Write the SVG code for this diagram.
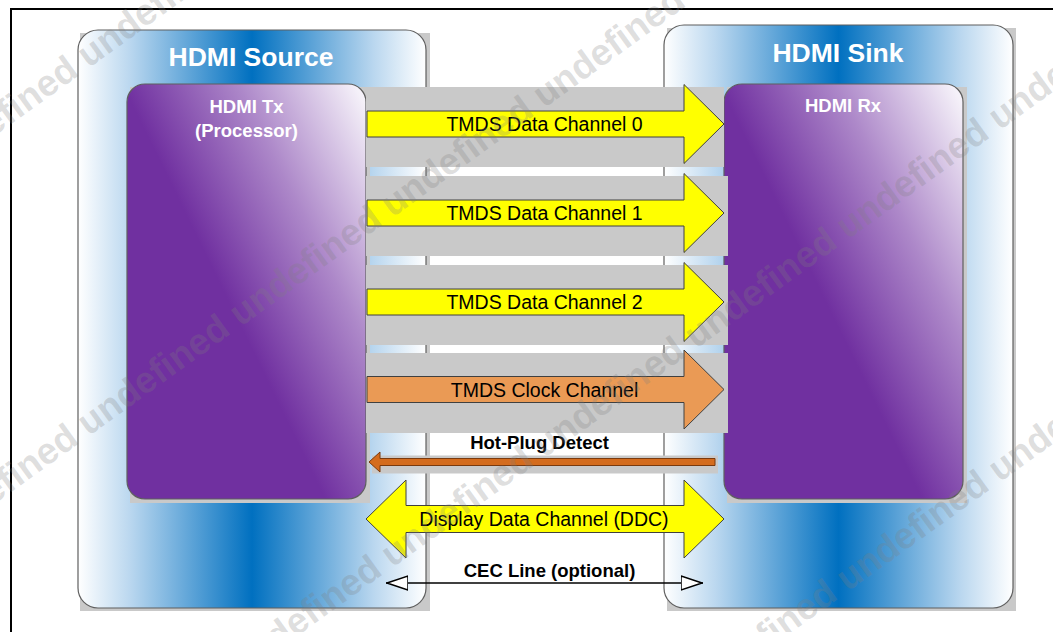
<svg xmlns="http://www.w3.org/2000/svg" width="1053" height="632" viewBox="0 0 1053 632">
<defs>
<linearGradient id="blue" x1="0" y1="0" x2="1" y2="0">
<stop offset="0" stop-color="#ffffff"/>
<stop offset="0.15" stop-color="#bad7ef"/>
<stop offset="0.5" stop-color="#0070c0"/>
<stop offset="0.85" stop-color="#bad7ef"/>
<stop offset="1" stop-color="#ffffff"/>
</linearGradient>
<linearGradient id="purpTx" gradientUnits="userSpaceOnUse" x1="130" y1="100" x2="318" y2="8">
<stop offset="0" stop-color="#7030a0"/>
<stop offset="0.5" stop-color="#ad88c9"/>
<stop offset="1" stop-color="#f5f1f9"/>
</linearGradient>
<linearGradient id="purpRx" gradientUnits="userSpaceOnUse" x1="727" y1="100" x2="915" y2="8">
<stop offset="0" stop-color="#7030a0"/>
<stop offset="0.5" stop-color="#ad88c9"/>
<stop offset="1" stop-color="#f5f1f9"/>
</linearGradient>
<marker id="open" viewBox="0 0 22 16" refX="22" refY="8" markerWidth="22" markerHeight="16" markerUnits="userSpaceOnUse" orient="auto-start-reverse">
<path d="M0,1 L21,8 L0,15 Z" fill="#fff" stroke="#000" stroke-width="1.5"/>
</marker>
<style>
.shadow{fill:#c9c9c9}
.box{stroke:#5f5f5f;stroke-width:1.2}
.title{font-family:"Liberation Sans",Arial,sans-serif;font-weight:bold;fill:#ffffff;text-anchor:middle}
.lbl{font-family:"Liberation Sans",Arial,sans-serif;font-size:19.5px;fill:#000;text-anchor:middle}
.blbl{font-family:"Liberation Sans",Arial,sans-serif;font-size:18.5px;font-weight:bold;fill:#000;text-anchor:middle}
.arrow{stroke:#404040;stroke-width:1}
.yel{fill:#ffff00}
.wm{font-family:"Liberation Sans",Arial,sans-serif;font-weight:bold;font-size:37px;fill:#7f7f7f;fill-opacity:0.26}
</style>
</defs>
<rect width="1053" height="632" fill="#ffffff"/>
<rect id="frame" x="11" y="9" width="1100" height="700" fill="none" stroke="#000" stroke-width="2"/>

<g id="source">
<rect class="shadow" x="80" y="33" width="350" height="578"/>
<rect class="box" x="78" y="30" width="348" height="578" rx="20" fill="url(#blue)"/>
<text class="title" x="251" y="66" font-size="26.5">HDMI Source</text>
</g>

<g id="sink">
<rect class="shadow" x="667" y="28" width="349" height="583"/>
<rect class="box" x="664" y="25" width="349" height="583" rx="20" fill="url(#blue)"/>
<text class="title" x="838" y="62" font-size="26.5">HDMI Sink</text>
</g>

<g id="tx">
<rect class="shadow" x="130" y="87" width="240" height="416"/>
<rect class="box" x="127" y="84" width="239" height="415" rx="18" fill="url(#purpTx)"/>
<text class="title" x="246.5" y="113" font-size="18.5">HDMI Tx</text>
<text class="title" x="246.5" y="137" font-size="18.5">(Processor)</text>
</g>

<g id="rx">
<rect class="shadow" x="727" y="87" width="240" height="416"/>
<rect class="box" x="724" y="84" width="239" height="415" rx="18" fill="url(#purpRx)"/>
<text class="title" x="843" y="112" font-size="18.5">HDMI Rx</text>
</g>

<g id="connectors">
<g id="ch0">
<rect class="shadow" x="366" y="87" width="358" height="80"/>
<polygon class="arrow yel" points="367,111 684,111 684,84.5 724,124 684,163.5 684,137 367,137"/>
<text class="lbl" x="544.5" y="131">TMDS Data Channel 0</text>
</g>
<g id="ch1">
<rect class="shadow" x="366" y="176" width="362" height="80"/>
<polygon class="arrow yel" points="367,200 684,200 684,173.5 724,213 684,252.5 684,226 367,226"/>
<text class="lbl" x="544.5" y="220">TMDS Data Channel 1</text>
</g>
<g id="ch2">
<rect class="shadow" x="366" y="265" width="362" height="80"/>
<polygon class="arrow yel" points="367,289 684,289 684,262.5 724,302 684,341.5 684,315 367,315"/>
<text class="lbl" x="544.5" y="308.5">TMDS Data Channel 2</text>
</g>
<g id="clk">
<rect class="shadow" x="366" y="353" width="362" height="80"/>
<polygon class="arrow" fill="#ea9a55" points="367,376.5 684,376.5 684,350 724,389.5 684,429 684,402.5 367,402.5"/>
<text class="lbl" x="544.5" y="396.5">TMDS Clock Channel</text>
</g>
<g id="hpd">
<text class="blbl" x="539.5" y="449">Hot-Plug Detect</text>
<rect class="shadow" x="372" y="455.5" width="346" height="18"/>
<polygon points="715,458.5 380,458.5 380,452 369,462 380,472 380,465.5 715,465.5" fill="#d46c1e" stroke="#7a3a0e" stroke-width="1"/>
</g>
<g id="ddc">
<polygon class="arrow yel" points="366,519 406,480 406,505.5 684,505.5 684,480 724,519 684,558 684,532.5 406,532.5 406,558"/>
<text class="lbl" x="544" y="526">Display Data Channel (DDC)</text>
</g>
<g id="cec">
<text class="blbl" x="549.5" y="577">CEC Line (optional)</text>
<line x1="386" y1="583" x2="703" y2="583" stroke="#000" stroke-width="1.5" marker-start="url(#open)" marker-end="url(#open)"/>
</g>
</g>

<g id="watermark" class="wm">
<text x="-215" y="287" transform="rotate(-35.75 -215 287)">undefined undefined undefined undefined undefined undefined undefined undefined undefined undefined</text>
<text x="-215" y="655" transform="rotate(-35.75 -215 655)">undefined undefined undefined undefined undefined undefined undefined undefined undefined undefined</text>
<text x="-215" y="1005" transform="rotate(-35.75 -215 1005)">undefined undefined undefined undefined undefined undefined undefined undefined undefined undefined undefined</text>
<text x="-215" y="1357" transform="rotate(-35.75 -215 1357)">undefined undefined undefined undefined undefined undefined undefined undefined undefined undefined undefined undefined</text>
</g>
</svg>
